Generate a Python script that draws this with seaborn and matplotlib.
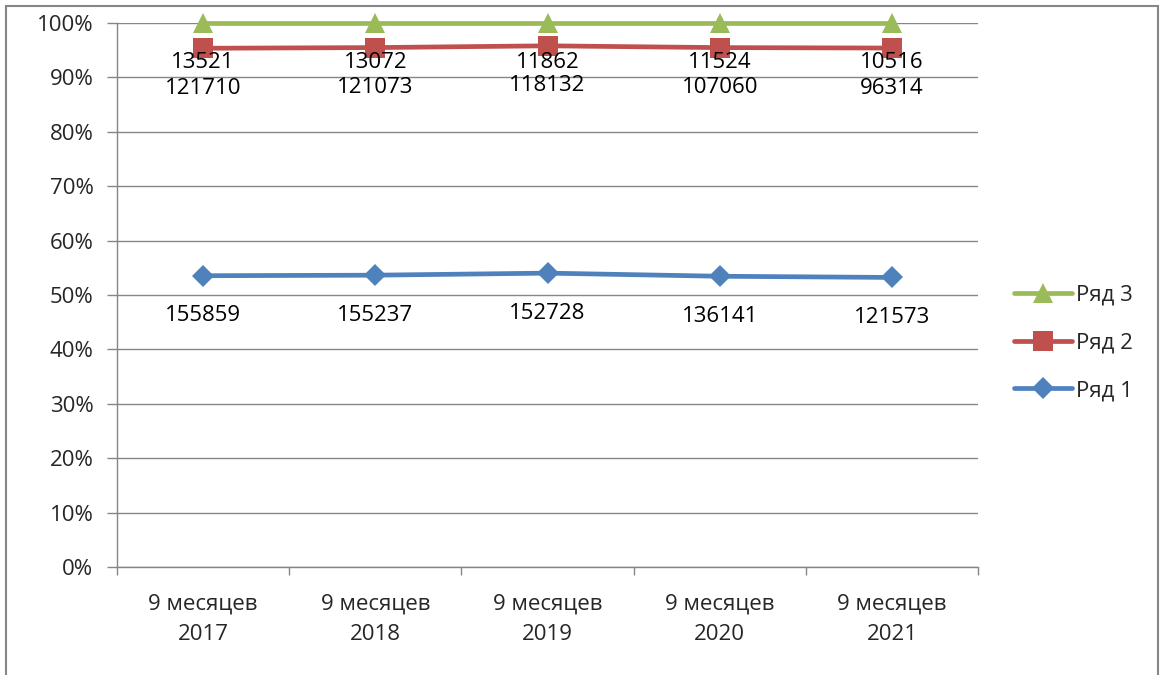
import matplotlib
matplotlib.use("Agg")
import matplotlib.pyplot as plt
import seaborn as sns
import pandas as pd
import numpy as np
from matplotlib.patches import Rectangle
from matplotlib.ticker import PercentFormatter

categories = ["9 месяцев\n2017", "9 месяцев\n2018", "9 месяцев\n2019", "9 месяцев\n2020", "9 месяцев\n2021"]
series1 = [155859, 155237, 152728, 136141, 121573]
series2 = [121710, 121073, 118132, 107060, 96314]
series3 = [13521, 13072, 11862, 11524, 10516]
names = ["Ряд 1", "Ряд 2", "Ряд 3"]
colors = {"Ряд 1": "#4F81BD", "Ряд 2": "#C0504D", "Ряд 3": "#9BBB59"}

sns.set_theme(style="white")
plt.rcParams['font.family'] = ['Open Sans', 'DejaVu Sans']

FS = 16

vals = np.array([series1, series2, series3], dtype=float)
totals = vals.sum(axis=0)
cum = np.cumsum(vals, axis=0) / totals * 100

rows = []
for si, name in enumerate(names):
    for ci, cat in enumerate(categories):
        rows.append({"x": ci, "pct": cum[si, ci], "series": name, "val": int(vals[si, ci])})
df = pd.DataFrame(rows)

fig = plt.figure(figsize=(11.6, 6.75), dpi=100)
ax = fig.add_axes([117/1160, 1 - 567/675, (978-117)/1160, (567-23)/675])

markers = {"Ряд 1": "D", "Ряд 2": "s", "Ряд 3": "^"}
sizes = {"Ряд 1": 11.5, "Ряд 2": 14, "Ряд 3": 15}
for name in names:
    d = df[df.series == name]
    sns.lineplot(data=d, x="x", y="pct", ax=ax, color=colors[name], linewidth=3.4,
                 marker=markers[name], markersize=sizes[name], markeredgewidth=0,
                 label=name, clip_on=False, zorder=3)
    for _, r in d.iterrows():
        ax.annotate(str(r.val), (r.x, r.pct), xytext=(0, -40), textcoords="offset pixels",
                    ha="center", va="center", fontsize=FS, color="black")

ax.set_xlim(-0.5, 4.5)
ax.set_ylim(0, 100)
ax.set_yticks(np.arange(0, 101, 10))
ax.yaxis.set_major_formatter(PercentFormatter(decimals=0))
ax.set_xticks(range(5))
ax.set_xticklabels(categories, fontsize=FS, linespacing=1.6)
ax.set_xticks(np.arange(-0.5, 4.6, 1), minor=True)
ax.tick_params(axis="x", which="major", bottom=False, length=0, pad=19)
ax.tick_params(axis="x", which="minor", bottom=True, length=6, color="#868686", width=1, direction="out")
ax.tick_params(axis="y", left=True, length=7, color="#868686", width=1, direction="out", labelsize=FS, pad=10)
ax.grid(axis="y", color="#868686", linewidth=1)
ax.set_axisbelow(True)
ax.set_xlabel("")
ax.set_ylabel("")
for s in ["top", "right"]:
    ax.spines[s].set_visible(False)
for s in ["left", "bottom"]:
    ax.spines[s].set_color("#868686")
    ax.spines[s].set_linewidth(1)

handles, labels = ax.get_legend_handles_labels()
order = [2, 1, 0]
leg = ax.legend([handles[i] for i in order], [labels[i] for i in order],
                loc="center left", bbox_to_anchor=(994/1160, 1 - 343/675),
                bbox_transform=fig.transFigure, frameon=False, fontsize=FS,
                handlelength=2.6, handletextpad=0.2, labelspacing=1.2)

fig.patches.append(Rectangle((6/1160, -0.1), (1158-6)/1160, 1.1 - 6/675, transform=fig.transFigure,
                             fill=False, edgecolor="#868686", linewidth=1.5))
fig.savefig("out.png", dpi=100)
